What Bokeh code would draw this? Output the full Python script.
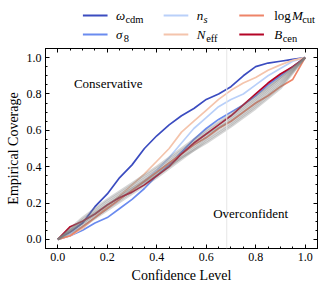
from bokeh.plotting import figure
from bokeh.layouts import column
from bokeh.models import (Range1d, LinearAxis, Span, Label, SingleIntervalTicker,
                          PrintfTickFormatter, CustomJSTickFormatter)
from bokeh.embed import file_html
from bokeh.resources import INLINE

# ---------------- data ----------------
conf = [0.0, 0.05, 0.1, 0.15, 0.2, 0.25, 0.3, 0.35, 0.4, 0.45, 0.5,
        0.55, 0.6, 0.65, 0.7, 0.75, 0.8, 0.85, 0.9, 0.95, 1.0]

omega_cdm = [0.0, 0.04, 0.09, 0.18, 0.25, 0.34, 0.41, 0.50, 0.57, 0.63, 0.68,
             0.72, 0.77, 0.80, 0.84, 0.90, 0.95, 0.97, 0.98, 0.99, 1.0]
sigma_8 = [0.0, 0.02, 0.05, 0.09, 0.12, 0.17, 0.22, 0.28, 0.35, 0.41, 0.48,
           0.55, 0.61, 0.66, 0.70, 0.74, 0.79, 0.85, 0.90, 0.95, 1.0]
n_s = [0.0, 0.03, 0.07, 0.12, 0.17, 0.22, 0.27, 0.32, 0.38, 0.45, 0.53,
       0.61, 0.67, 0.73, 0.77, 0.80, 0.85, 0.90, 0.94, 0.98, 1.0]
N_eff = [0.0, 0.02, 0.06, 0.12, 0.18, 0.24, 0.30, 0.36, 0.43, 0.50, 0.59,
         0.65, 0.71, 0.77, 0.82, 0.86, 0.89, 0.93, 0.96, 0.985, 1.0]
log_M_cut = [0.0, 0.02, 0.07, 0.12, 0.17, 0.22, 0.27, 0.32, 0.37, 0.42, 0.47,
             0.52, 0.56, 0.61, 0.65, 0.70, 0.75, 0.79, 0.84, 0.88, 1.0]
B_cen = [0.0, 0.07, 0.10, 0.14, 0.19, 0.23, 0.26, 0.30, 0.35, 0.40, 0.47,
         0.53, 0.58, 0.63, 0.68, 0.74, 0.80, 0.86, 0.91, 0.95, 1.0]

series_values = [omega_cdm, sigma_8, n_s, N_eff, log_M_cut, B_cen]
series_colors = ["#3b4cc0", "#6a8bef", "#b9d0f9", "#f4c4ac", "#ee8468", "#b40426"]

conf_gray = [0.0, 0.1, 0.2, 0.3, 0.4, 0.5, 0.6, 0.7, 0.8, 0.9, 1.0]
gray_runs = [
    [0.0, 0.08, 0.17, 0.26, 0.36, 0.46, 0.56, 0.66, 0.76, 0.87, 1.0],
    [0.0, 0.10, 0.19, 0.28, 0.37, 0.47, 0.57, 0.67, 0.77, 0.88, 1.0],
    [0.0, 0.11, 0.21, 0.30, 0.39, 0.49, 0.59, 0.68, 0.78, 0.89, 1.0],
    [0.0, 0.09, 0.18, 0.27, 0.35, 0.45, 0.55, 0.64, 0.74, 0.85, 1.0],
    [0.0, 0.12, 0.22, 0.31, 0.40, 0.50, 0.60, 0.69, 0.79, 0.89, 1.0],
    [0.0, 0.07, 0.16, 0.25, 0.34, 0.44, 0.54, 0.63, 0.73, 0.84, 1.0],
    [0.0, 0.10, 0.20, 0.29, 0.38, 0.48, 0.58, 0.65, 0.75, 0.86, 1.0],
    [0.0, 0.09, 0.19, 0.28, 0.36, 0.45, 0.53, 0.62, 0.72, 0.83, 1.0],
]

ref_level = 0.683

# legend entries: (column, row, [(text, style, dx, size)]) ; subscripts are smaller
legend_items = [
    (0, 0, [("ω", "italic", 0, 13), ("cdm", "normal", 11, 10.5)]),
    (0, 1, [("σ", "italic", 0, 13), ("8", "normal", 9, 10.5)]),
    (1, 0, [("n", "italic", 0, 13), ("s", "italic", 8, 10.5)]),
    (1, 1, [("N", "italic", 0, 13), ("eff", "normal", 11, 10.5)]),
    (2, 0, [("log", "normal", 0, 13), ("M", "italic", 21, 13), ("cut", "normal", 33, 10.5)]),
    (2, 1, [("B", "italic", 0, 13), ("cen", "normal", 10, 10.5)]),
]

SERIF = "Liberation Serif"
W = 320
LEG_H = 44

# ---------------- legend figure ----------------
leg = figure(width=W, height=LEG_H, output_backend="svg", toolbar_location=None,
             x_range=Range1d(0, W), y_range=Range1d(0, LEG_H),
             min_border=0, min_border_left=0, min_border_right=0,
             min_border_top=0, min_border_bottom=0)
leg.axis.visible = False
leg.grid.visible = False
leg.outline_line_color = None
leg.background_fill_color = "white"
leg.border_fill_color = "white"

row_y = [LEG_H - 15, LEG_H - 34]
sw_x = [(44, 73), (139, 168), (228, 257)]
text_x0 = [83, 178, 269]
for idx, (c, r, parts) in enumerate(legend_items):
    y = row_y[r]
    leg.segment(x0=[sw_x[c][0]], y0=[y], x1=[sw_x[c][1]], y1=[y],
                line_color=series_colors[idx], line_width=2)
    for txt, style, dx, size in parts:
        sub = size < 12
        leg.add_layout(Label(x=text_x0[c] + dx, y=y - (4 if sub else 0),
                             text=txt, text_font=SERIF, text_font_style=style,
                             text_font_size=f"{size}px", text_baseline="middle",
                             text_color="black"))

# ---------------- main figure ----------------
p = figure(width=W, height=242, output_backend="svg", toolbar_location=None,
           x_range=Range1d(-0.05, 1.05), y_range=Range1d(-0.05, 1.05),
           min_border_left=45, min_border_right=3, min_border_top=4, min_border_bottom=38,
           x_axis_label="Confidence Level", y_axis_label="Empirical Coverage")
p.grid.visible = False
p.outline_line_color = "black"
p.outline_line_width = 1
p.background_fill_color = "white"
p.border_fill_color = "white"


def style_axis(ax, show_labels=True):
    ax.ticker = SingleIntervalTicker(interval=0.2, num_minor_ticks=4)
    ax.major_tick_in = 4
    ax.major_tick_out = 0
    ax.minor_tick_in = 2
    ax.minor_tick_out = 0
    ax.axis_line_color = "black"
    ax.major_tick_line_color = "black"
    ax.minor_tick_line_color = "black"
    ax.major_label_text_font = SERIF
    ax.major_label_text_font_size = "12px"
    ax.major_label_text_color = "black"
    ax.axis_label_text_font = SERIF
    ax.axis_label_text_font_size = "14px"
    ax.axis_label_text_font_style = "normal"
    ax.axis_label_text_color = "black"
    ax.major_label_standoff = 4
    ax.axis_label_standoff = 4
    if show_labels:
        ax.formatter = PrintfTickFormatter(format="%.1f")
    else:
        ax.formatter = CustomJSTickFormatter(code="return ''")
        ax.major_label_standoff = 0


style_axis(p.xaxis[0])
style_axis(p.yaxis[0])
p.yaxis[0].axis_label_standoff = 3

top_ax = LinearAxis()
right_ax = LinearAxis()
style_axis(top_ax, False)
style_axis(right_ax, False)
p.add_layout(top_ax, "above")
p.add_layout(right_ax, "right")

p.add_layout(Span(location=ref_level, dimension="height", line_color="#e6e6e6", line_width=1))

for vals, col in zip(series_values, series_colors):
    p.line(conf, vals, line_color=col, line_width=1.7)

for run in gray_runs:
    p.line(conf_gray, run, line_color="#7f7f7f", line_width=2.2, line_alpha=0.32)

p.add_layout(Label(x=0.065, y=0.856, text="Conservative", text_font=SERIF,
                   text_font_size="13px", text_baseline="middle", text_color="black"))
p.add_layout(Label(x=0.628, y=0.144, text="Overconfident", text_font=SERIF,
                   text_font_size="13px", text_baseline="middle", text_color="black"))

layout = column(leg, p, spacing=0)
open("out.html", "w").write(file_html(layout, INLINE))
